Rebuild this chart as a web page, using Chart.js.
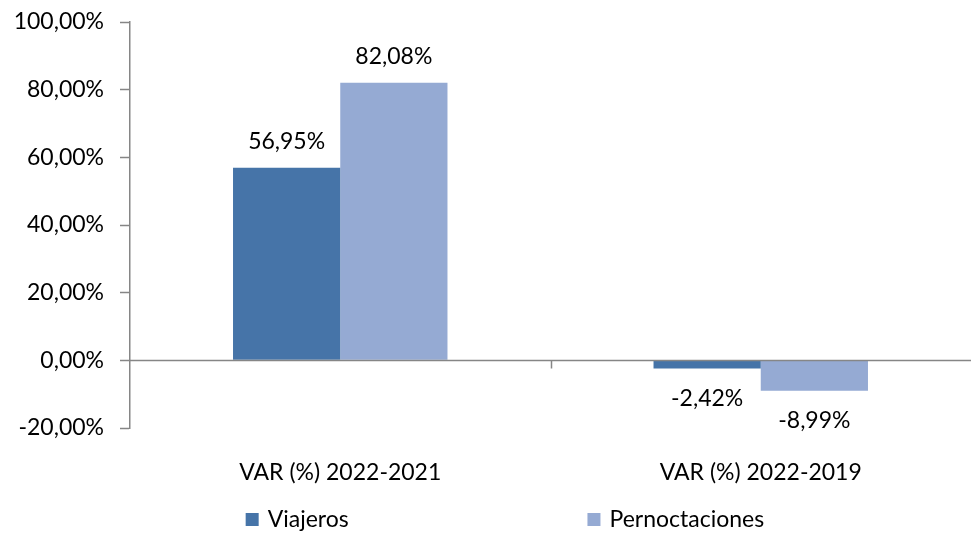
<!DOCTYPE html>
<html>
<head>
<meta charset="utf-8">
<script src="https://cdn.jsdelivr.net/npm/chart.js@4/dist/chart.umd.min.js"></script>
<style>
  html, body { margin: 0; padding: 0; background: #fff; }
  #wrap { width: 971px; height: 534px; }
</style>
</head>
<body>
<div id="wrap"><canvas id="chart"></canvas></div>
<script>
// Data
const categories = ['VAR (%) 2022-2021', 'VAR (%) 2022-2019'];
const viajeros = [56.95, -2.42];
const pernoctaciones = [82.08, -8.99];
const yTicks = [-20, 0, 20, 40, 60, 80, 100];

const FONT = "Lato, 'Open Sans', sans-serif";
const FONT_SIZE = 23;
const axisGray = '#868686';
const colors = {
    viajeros: '#4674A8',
    pernoctaciones: '#95AAD3'
};

function fmt(v, dec) {
    return v.toFixed(dec).replace('.', ',') + '%';
}

// Data labels above positive bars, below negative bars
const valueLabels = {
    id: 'valueLabels',
    afterDatasetsDraw(chart) {
        const ctx = chart.ctx;
        ctx.save();
        ctx.font = FONT_SIZE + 'px ' + FONT;
        ctx.fillStyle = '#000';
        ctx.textAlign = 'center';
        ctx.textBaseline = 'middle';
        chart.data.datasets.forEach((ds, i) => {
            chart.getDatasetMeta(i).data.forEach((bar, j) => {
                const v = ds.data[j];
                const off = v >= 0 ? -26 : 30;
                ctx.fillText(fmt(v, 2), bar.x, bar.y + off);
            });
        });
        ctx.restore();
    }
};

// Zero line with category tick marks
const zeroAxis = {
    id: 'zeroAxis',
    afterDatasetsDraw(chart) {
        const { ctx, chartArea } = chart;
        const y0 = Math.round(chart.scales.y.getPixelForValue(0)) + 0.5;
        ctx.save();
        ctx.strokeStyle = axisGray;
        ctx.lineWidth = 1.5;
        ctx.beginPath();
        ctx.moveTo(chartArea.left, y0);
        ctx.lineTo(chartArea.right, y0);
        const n = categories.length;
        const w = (chartArea.right - chartArea.left) / n;
        for (let i = 1; i < n; i++) {
            const x = Math.round(chartArea.left + w * i) + 0.5;
            ctx.moveTo(x, y0);
            ctx.lineTo(x, y0 + 8);
        }
        ctx.stroke();
        ctx.restore();
    }
};

// Legend drawn at bottom
const bottomLegend = {
    id: 'bottomLegend',
    afterDraw(chart) {
        const ctx = chart.ctx;
        const xs = [chart.width * 0.253, chart.width * 0.605];
        const y = chart.height - 14;
        ctx.save();
        ctx.font = FONT_SIZE + 'px ' + FONT;
        ctx.textBaseline = 'middle';
        ctx.textAlign = 'left';
        chart.data.datasets.forEach((ds, i) => {
            ctx.fillStyle = ds.backgroundColor;
            ctx.fillRect(xs[i], y - 7, 13, 13);
            ctx.fillStyle = '#000';
            ctx.fillText(ds.label, xs[i] + 22, y);
        });
        ctx.restore();
    }
};

new Chart(document.getElementById('chart'), {
    type: 'bar',
    data: {
        labels: categories,
        datasets: [
            { label: 'Viajeros', data: viajeros, backgroundColor: colors.viajeros },
            { label: 'Pernoctaciones', data: pernoctaciones, backgroundColor: colors.pernoctaciones }
        ]
    },
    options: {
        responsive: true,
        maintainAspectRatio: false,
        animation: false,
        categoryPercentage: 0.51,
        barPercentage: 1,
        layout: {
            padding: { top: 0, right: 0, bottom: 46, left: 0 }
        },
        plugins: {
            legend: { display: false },
            tooltip: { enabled: false }
        },
        scales: {
            y: {
                min: -20,
                max: 100,
                afterBuildTicks: (scale) => {
                    scale.ticks = yTicks.map(v => ({ value: v }));
                },
                afterFit: (scale) => {
                    scale.width = 130;
                    scale.paddingTop = 22;
                    scale.paddingBottom = 0;
                },
                grid: {
                    drawOnChartArea: false,
                    drawTicks: true,
                    tickLength: 10,
                    tickColor: axisGray,
                    tickWidth: 1.5
                },
                border: { display: true, color: axisGray, width: 1.5 },
                ticks: {
                    color: '#000',
                    font: { size: FONT_SIZE, family: FONT },
                    padding: 16,
                    callback: (v) => fmt(v, 2)
                }
            },
            x: {
                afterFit: (scale) => { scale.height = 60; },
                grid: { display: false },
                border: { display: false },
                ticks: {
                    color: '#000',
                    font: { size: FONT_SIZE, family: FONT },
                    padding: 23
                }
            }
        }
    },
    plugins: [valueLabels, zeroAxis, bottomLegend]
});
</script>
</body>
</html>
